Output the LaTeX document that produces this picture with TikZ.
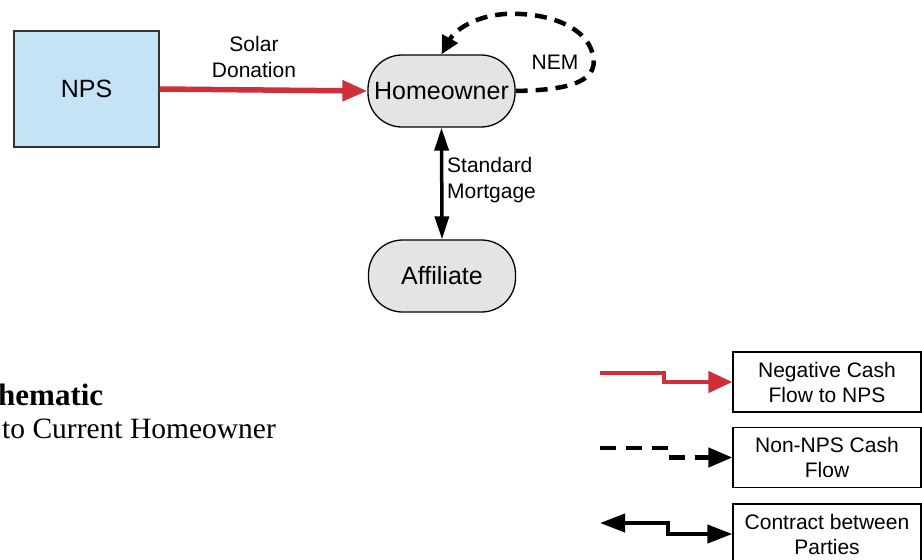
\documentclass[tikz,border=0pt]{standalone}
\usepackage{fontspec}
\setmainfont{Liberation Sans}
\newfontfamily\capfont{Liberation Serif}
\usetikzlibrary{arrows.meta,positioning}
\definecolor{FlowRed}{HTML}{CF2F3B}
\definecolor{NpsBlue}{HTML}{C4E4F6}
\definecolor{Party}{HTML}{E4E4E4}

\begin{document}
\begin{tikzpicture}[x=1pt,y=-1pt,
    party/.style={fill=Party,draw=black,line width=1.3pt,rounded corners=34pt,minimum width=147pt,minimum height=72pt,inner sep=0pt,font=\fontsize{25}{29}\selectfont},
    lbl/.style={inner sep=0pt,font=\fontsize{21}{26}\selectfont},
    legbox/.style={draw=black,line width=1.3pt,minimum width=188pt,minimum height=60pt,inner sep=0pt,align=center,font=\fontsize{21}{25}\selectfont},
    negflow/.style={FlowRed,line width=4.5pt,-{Triangle[length=24pt,width=21pt]}},
    cashflow/.style={black,line width=4.5pt,dash pattern=on 16pt off 10pt,-{Triangle[length=24pt,width=19pt]}},
    contract/.style={black,line width=4pt,{Triangle[length=25pt,width=18pt]}-{Triangle[length=25pt,width=18pt]}}]
    \useasboundingbox (0,0) rectangle (922,560);
    % parties
    \node[fill=NpsBlue,draw=black!80,line width=1.2pt,minimum width=145pt,minimum height=116pt,inner sep=0pt,font=\fontsize{25}{29}\selectfont] (nps) at (86.5,89) {NPS};
    \node[party] (home) at (441.5,91) {Homeowner};
    \node[party] (aff) at (442,276) {Affiliate};
    % flows between them
    \draw[FlowRed,line width=5.5pt,-{Triangle[length=25pt,width=20pt]}] (nps.east) -- (home.west);
    \node[lbl,align=center] (don) at (254,57) {Solar\\Donation};
    \draw[black,line width=4.5pt,dash pattern=on 12pt off 8pt,-{Triangle[length=18pt,width=17pt]}] (home.east) .. controls (560,90) and (600,85) .. (593,55) .. controls (586,25) and (545,12) .. (505,14) .. controls (475,16) and (455,30) .. (home.north);
    \node[lbl] (nem) at (555,62) {NEM};
    \draw[black,line width=3.5pt,{Triangle[length=23pt,width=14pt]}-{Triangle[length=23pt,width=14pt]}] (home.south) -- (aff.north);
    \node[lbl,align=left,anchor=west] (mtg) at (447,180) {Standard\\Mortgage};
    % caption (cut at left edge)
    \node[inner sep=0pt,anchor=base west,font=\capfont\fontsize{31}{35}\selectfont\bfseries] (cap1) at (-2,405) {hematic};
    \node[inner sep=0pt,anchor=base west,font=\capfont\fontsize{29.5}{34}\selectfont] (cap2) at (2,438) {to Current Homeowner};
    % legend
    \node[legbox] (leg1) at (827,382) {Negative Cash\\Flow to NPS};
    \node[legbox] (leg2) at (827,457.5) {Non-NPS Cash\\Flow};
    \node[legbox] (leg3) at (827,534) {Contract between\\Parties};
    \coordinate (k1) at (600,373);
    \coordinate (k2) at (600,448);
    \coordinate (k3) at (600,523);
    \draw[negflow] (k1) -- ++(64,0) |- (leg1.west);
    \draw[cashflow] (k2) -- ++(68,0) |- (leg2.west);
    \draw[contract] (k3) -- ++(68,0) |- (leg3.west);
\end{tikzpicture}
\end{document}
